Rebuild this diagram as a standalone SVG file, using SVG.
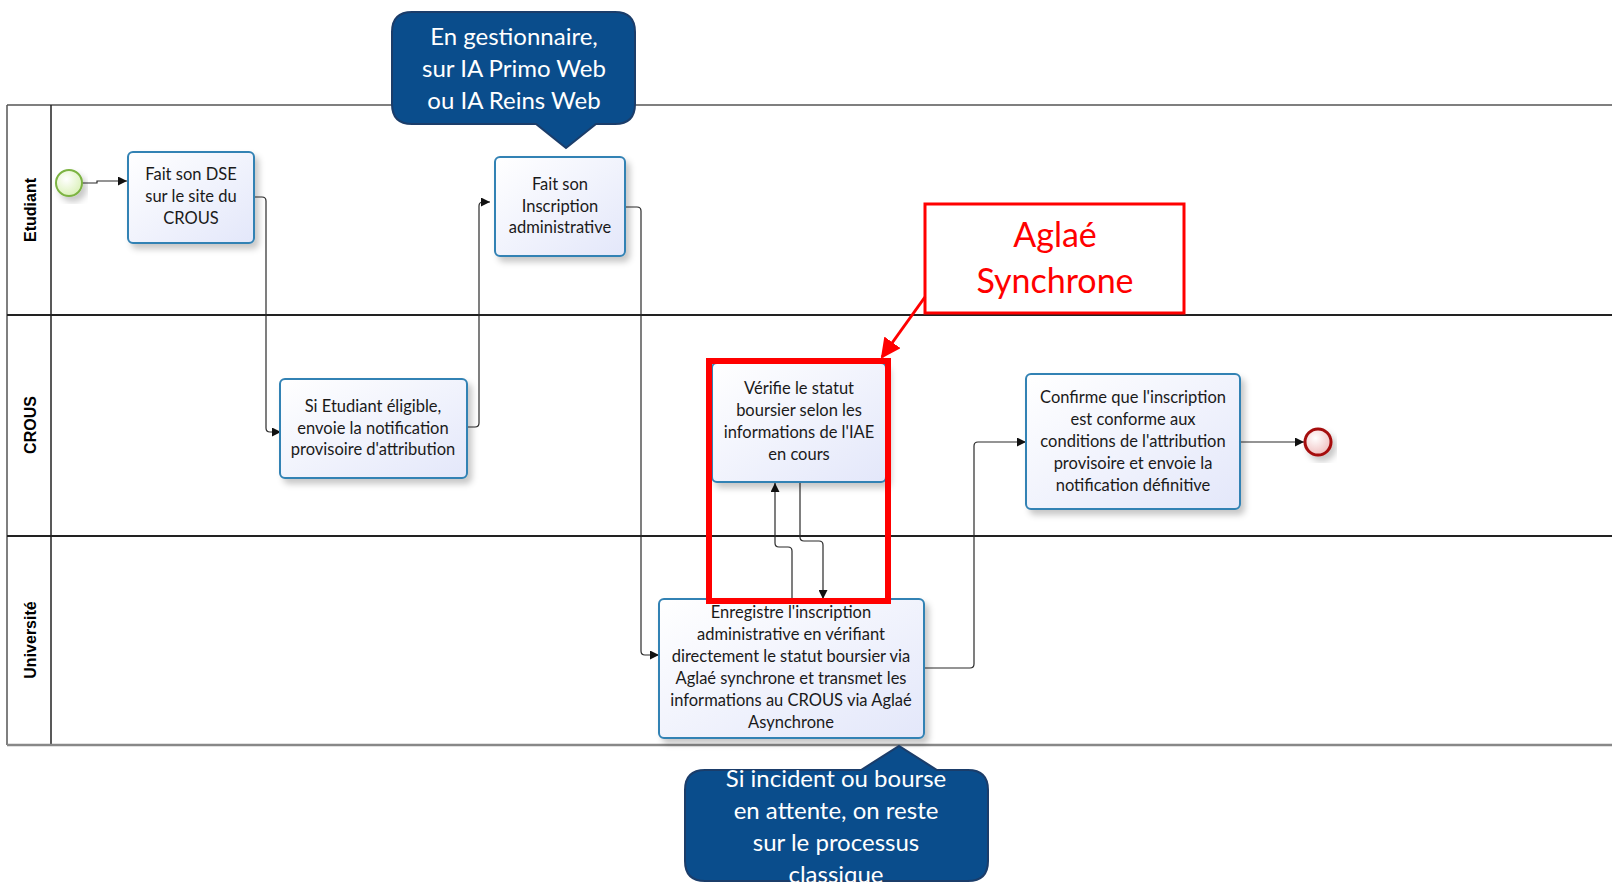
<svg xmlns="http://www.w3.org/2000/svg" width="1612" height="882" viewBox="0 0 1612 882">
<style>
.lane{fill:none;stroke:#222;stroke-width:2}
.lbl{font-family:"Liberation Sans",Arial,sans-serif;font-weight:bold;font-size:16px;fill:#000;text-anchor:middle}
.task{fill:url(#tg);stroke:#3282b4;stroke-width:2}
.tt{font-family:Lato,"Liberation Sans",sans-serif;font-size:16.5px;fill:#1a1a1a;text-anchor:middle}
.conn{fill:none;stroke:#2a2a2a;stroke-width:1.2}
.call{fill:#0a4d8c;stroke:#1b3d6a;stroke-width:2}
.ct{font-family:Lato,"Liberation Sans",sans-serif;font-size:24px;fill:#fff;text-anchor:middle}
.red{fill:none;stroke:#ff0000}
.rt{font-family:Lato,"Liberation Sans",sans-serif;font-size:34px;fill:#ff0000;text-anchor:middle}
</style>
<defs>
<linearGradient id="tg" x1="0" y1="0" x2="1" y2="1">
<stop offset="0" stop-color="#ffffff"/>
<stop offset="1" stop-color="#e3e7fa"/>
</linearGradient>
<radialGradient id="sg" cx="0.4" cy="0.35" r="0.7">
<stop offset="0" stop-color="#ffffff"/>
<stop offset="1" stop-color="#d9f0b5"/>
</radialGradient>
<radialGradient id="eg" cx="0.4" cy="0.35" r="0.7">
<stop offset="0" stop-color="#ffffff"/>
<stop offset="1" stop-color="#efbcbc"/>
</radialGradient>
<filter id="sh" x="-10%" y="-10%" width="130%" height="140%">
<feDropShadow dx="4" dy="5" stdDeviation="3" flood-color="#000" flood-opacity="0.22"/>
</filter>
<marker id="ah" viewBox="0 0 10 10" refX="10" refY="5" markerWidth="9" markerHeight="9" orient="auto" markerUnits="userSpaceOnUse">
<path d="M0,0 L10,5 L0,10 z" fill="#111"/>
</marker>
<marker id="rah" viewBox="0 0 10 10" refX="9" refY="5" markerWidth="20" markerHeight="20" orient="auto" markerUnits="userSpaceOnUse">
<path d="M0,0 L10,5 L0,10 z" fill="#ff0000"/>
</marker>
</defs>
<rect width="1612" height="882" fill="#ffffff"/>

<g id="pool">
<line x1="7" y1="105" x2="1612" y2="105" stroke="#555" stroke-width="1.5"/>
<line x1="7" y1="105" x2="7" y2="745" stroke="#555" stroke-width="1.5"/>
<line x1="51" y1="105" x2="51" y2="745" stroke="#222" stroke-width="1.5"/>
<line x1="7" y1="315" x2="1612" y2="315" class="lane"/>
<line x1="7" y1="536" x2="1612" y2="536" class="lane"/>
<line x1="7" y1="745" x2="1612" y2="745" stroke="#888" stroke-width="2.5"/>
<text class="lbl" transform="translate(36,210) rotate(-90)">Etudiant</text>
<text class="lbl" transform="translate(36,425) rotate(-90)">CROUS</text>
<text class="lbl" transform="translate(36,640) rotate(-90)">Université</text>
</g>

<g id="connectors">
<path class="conn" d="M82,183 H97 V181 H127" marker-end="url(#ah)"/>
<path class="conn" d="M255,197 H262 Q266,197 266,201 V428 Q266,432 270,432 H281" marker-end="url(#ah)"/>
<path class="conn" d="M467,427 H475 Q479,427 479,423 V206 Q479,202 483,202 H490" marker-end="url(#ah)"/>
<path class="conn" d="M626,207 H637 Q641,207 641,211 V651 Q641,655 645,655 H659" marker-end="url(#ah)"/>
<path class="conn" d="M792,599 V551 Q792,547 788,547 H779 Q775,547 775,543 V483" marker-end="url(#ah)"/>
<path class="conn" d="M800,482 V537 Q800,541 804,541 H819 Q823,541 823,545 V599" marker-end="url(#ah)"/>
<path class="conn" d="M924,668 H970 Q974,668 974,664 V446 Q974,442 978,442 H1026" marker-end="url(#ah)"/>
<path class="conn" d="M1240,442 H1304" stroke="#777" marker-end="url(#ah)"/>
</g>

<g id="start">
<circle cx="69" cy="183" r="13" fill="url(#sg)" stroke="#7cb342" stroke-width="2" filter="url(#sh)"/>
</g>

<g id="t1">
<rect class="task" x="128" y="152" width="126" height="91" rx="5" filter="url(#sh)"/>
<text class="tt"><tspan x="191" y="180">Fait son DSE</tspan><tspan x="191" y="202">sur le site du</tspan><tspan x="191" y="224">CROUS</tspan></text>
</g>

<g id="t2">
<rect class="task" x="495" y="157" width="130" height="99" rx="5" filter="url(#sh)"/>
<text class="tt"><tspan x="560" y="190">Fait son</tspan><tspan x="560" y="212">Inscription</tspan><tspan x="560" y="233">administrative</tspan></text>
</g>

<g id="t3">
<rect class="task" x="280" y="379" width="187" height="99" rx="5" filter="url(#sh)"/>
<text class="tt"><tspan x="373" y="412">Si Etudiant éligible,</tspan><tspan x="373" y="434">envoie la notification</tspan><tspan x="373" y="455">provisoire d'attribution</tspan></text>
</g>

<g id="t4">
<rect class="task" x="712" y="363" width="174" height="119" rx="5" filter="url(#sh)"/>
<text class="tt"><tspan x="799" y="394">Vérifie le statut</tspan><tspan x="799" y="416">boursier selon les</tspan><tspan x="799" y="438">informations de l'IAE</tspan><tspan x="799" y="460">en cours</tspan></text>
</g>

<g id="t5">
<rect class="task" x="659" y="599" width="265" height="139" rx="5" filter="url(#sh)"/>
<text class="tt"><tspan x="791" y="618">Enregistre l'inscription</tspan><tspan x="791" y="640">administrative en vérifiant</tspan><tspan x="791" y="662">directement le statut boursier via</tspan><tspan x="791" y="684">Aglaé synchrone et transmet les</tspan><tspan x="791" y="706">informations au CROUS via Aglaé</tspan><tspan x="791" y="728">Asynchrone</tspan></text>
</g>

<g id="t6">
<rect class="task" x="1026" y="374" width="214" height="135" rx="5" filter="url(#sh)"/>
<text class="tt"><tspan x="1133" y="403">Confirme que l'inscription</tspan><tspan x="1133" y="425">est conforme aux</tspan><tspan x="1133" y="447">conditions de l'attribution</tspan><tspan x="1133" y="469">provisoire et envoie la</tspan><tspan x="1133" y="491">notification définitive</tspan></text>
</g>

<g id="end">
<circle cx="1318" cy="442" r="13" fill="url(#eg)" stroke="#a50f0f" stroke-width="3" filter="url(#sh)"/>
</g>

<g id="highlight">
<rect class="red" x="709" y="361" width="179" height="240" stroke-width="6"/>
</g>

<g id="aglae">
<rect x="925" y="204" width="259" height="109" fill="#fff" stroke="#ff0000" stroke-width="3"/>
<text class="rt"><tspan x="1055" y="247">Aglaé</tspan><tspan x="1055" y="293">Synchrone</tspan></text>
<line x1="925" y1="297" x2="882" y2="357" stroke="#ff0000" stroke-width="3" marker-end="url(#rah)"/>
</g>

<g id="callout1">
<path class="call" d="M412,12 H615 Q635,12 635,32 V104 Q635,124 615,124 H596 L566,148 L536,124 H412 Q392,124 392,104 V32 Q392,12 412,12 Z"/>
<text class="ct"><tspan x="514" y="45">En gestionnaire,</tspan><tspan x="514" y="77">sur IA Primo Web</tspan><tspan x="514" y="109">ou IA Reins Web</tspan></text>
</g>

<g id="callout2">
<path class="call" d="M705,770 H861 L899,746 L937,770 H968 Q988,770 988,790 V861 Q988,881 968,881 H705 Q685,881 685,861 V790 Q685,770 705,770 Z"/>
<text class="ct"><tspan x="836" y="787">Si incident ou bourse</tspan><tspan x="836" y="819">en attente, on reste</tspan><tspan x="836" y="851">sur le processus</tspan><tspan x="836" y="883">classique</tspan></text>
</g>
</svg>
